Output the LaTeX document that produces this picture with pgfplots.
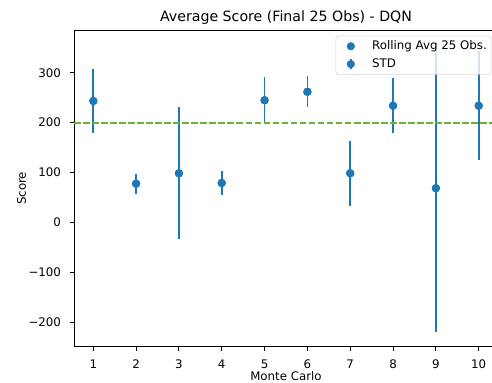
\documentclass[border=0pt]{standalone}
\usepackage{fontspec}
\setmainfont{DejaVu Sans}
\usepackage{pgfplots}
\pgfplotsset{compat=1.18}
\definecolor{mplblue}{HTML}{1F77B4}
\definecolor{lgreen}{HTML}{6CB040}
\pgfplotstableread{
x y e
1 243.5 63.5
2 77.5 20
3 98.5 132
4 79 25
5 245 47
6 262 31
7 98.5 65.5
8 234 55
9 68.5 288.5
10 234 109
}\dqn
\begin{document}
\begin{tikzpicture}
\begin{axis}[
  at={(0,0)}, anchor=south west,
  scale only axis, width=305.28pt, height=228pt,
  xmin=0.55, xmax=10.45, ymin=-249.5, ymax=386,
  xtick={1,2,3,4,5,6,7,8,9,10},
  ytick={-200,-100,0,100,200,300},
  yticklabels={−200,−100,0,100,200,300},
  tick align=outside, tick pos=left, major tick length=2.9pt,
  tick style={line width=0.68pt, black},
  axis line style={line width=0.68pt},
  /pgf/number format/assume math mode=true,
  ticklabel style={font=\fontsize{8.5}{10}\selectfont},
  xticklabel style={anchor=north, inner sep=0pt, yshift=-6.3pt},
  yticklabel style={anchor=east, inner sep=0pt, xshift=-6.3pt},
  xlabel={Monte Carlo}, ylabel={Score},
  label style={font=\fontsize{8.5}{10}\selectfont},
  xlabel style={at={(0.5,-0.0925)}, anchor=center},
  ylabel style={at={(-0.1235,0.5)}, anchor=center},
  every axis title shift=0pt,
  title={Average Score (Final 25 Obs) - DQN},
  title style={font=\fontsize{10.2}{12}\selectfont, at={(0.5,1)}, anchor=base, yshift=5.8pt},
  legend cell align=left,
  legend style={at={(0.6172,0.982)}, anchor=north west,
    draw=black!20, fill=white, fill opacity=0.8, draw opacity=0.8, text opacity=1,
    rounded corners=2pt, inner sep=3.2pt, row sep=4.4pt, column sep=7.9pt,
    font=\fontsize{8.5}{10}\selectfont,
    nodes={inner sep=0pt, text height=6.4pt, text depth=2pt}},
]
\addplot[only marks, mark=*, mark size=2.75pt, mplblue, mark options={draw=mplblue, fill=mplblue},
  legend image code/.code={\path[draw=none,fill=none] (0,-3pt) rectangle (15pt,3pt);
    \fill[mplblue, fill opacity=1] (7.5pt,0) circle (2.75pt);}]
  table[x=x, y=y] {\dqn};
\addlegendentry{Rolling Avg 25 Obs.}
\addplot[only marks, mark=*, mark size=2.75pt, mplblue, mark options={draw=mplblue, fill=mplblue},
  error bars/.cd, y dir=both, y explicit, error mark=none,
  error bar style={line width=1.28pt, mplblue},
  /pgfplots/legend image code/.code={\path[draw=none,fill=none] (0,-3pt) rectangle (15pt,3pt);
    \draw[mplblue, draw opacity=1, line width=1.28pt] (7.5pt,-3.6pt) -- (7.5pt,3.6pt);
    \fill[mplblue, fill opacity=1] (7.5pt,0) circle (2.75pt);}]
  table[x=x, y=y, y error=e] {\dqn};
\addlegendentry{STD}
\addplot[lgreen, line width=1.28pt, dash pattern=on 4.8pt off 1.7pt, forget plot] coordinates {(0.55,200) (10.45,200)};
\end{axis}
\pgfresetboundingbox
\path[use as bounding box] (-53.28pt,-26.14pt) rectangle (300.96pt,249.6pt);
\end{tikzpicture}
\end{document}
